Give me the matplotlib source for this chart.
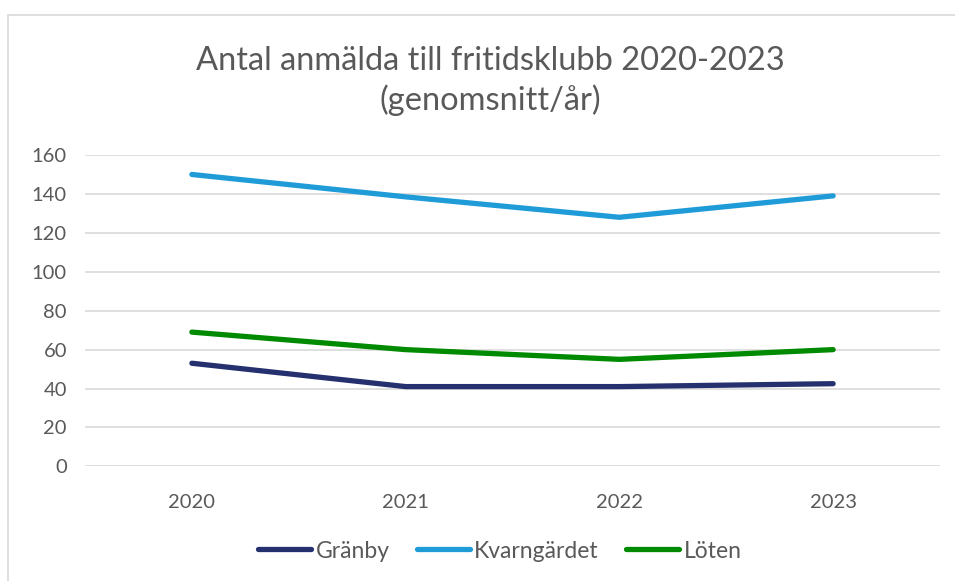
import matplotlib.pyplot as plt
from matplotlib.patches import Rectangle

years = ["2020", "2021", "2022", "2023"]
granby = [53, 41, 41, 42.5]
kvarngardet = [150, 138.5, 128, 139]
loten = [69, 60, 55, 60]

plt.rcParams['font.family'] = ['Lato', 'DejaVu Sans']
grey = '#595959'

fig = plt.figure(figsize=(9.55, 5.81), dpi=100)
# chart border
fig.patches.append(Rectangle((8 / 955, -0.1), 1.1, 1 - 14.5 / 581 + 0.1,
                             transform=fig.transFigure, fill=False,
                             edgecolor='#d9d9d9', linewidth=1.2))

ax = fig.add_axes([85 / 955, 1 - 466.4 / 581, 855 / 955, (466.4 - 155) / 581])
x = range(len(years))
ax.plot(x, granby, color='#25306e', linewidth=3.8, solid_capstyle='round', label='Gränby')
ax.plot(x, kvarngardet, color='#1f9cd8', linewidth=3.8, solid_capstyle='round', label='Kvarngärdet')
ax.plot(x, loten, color='#008a00', linewidth=3.8, solid_capstyle='round', label='Löten')

ax.set_xlim(-0.5, 3.5)
ax.set_ylim(0, 160)
ax.set_yticks(range(0, 161, 20))
ax.set_xticks(list(x))
ax.set_xticklabels(years)
ax.yaxis.grid(True, color='#d9d9d9', linewidth=1.2)
ax.set_axisbelow(True)
for s in ax.spines.values():
    s.set_visible(False)
ax.tick_params(length=0, labelsize=14.5, labelcolor=grey)
ax.tick_params(axis='y', pad=13)
ax.tick_params(axis='x', pad=20)

fig.text(490 / 955, 1 - 81 / 581, "Antal anmälda till fritidsklubb 2020-2023\n(genomsnitt/år)",
         ha='center', va='center', fontsize=23.5, color=grey, linespacing=1.35)

ax.legend(loc='center', bbox_to_anchor=(500 / 955, 1 - 551 / 581), bbox_transform=fig.transFigure,
          ncol=3, frameon=False, fontsize=16.5, labelcolor=grey, handlelength=2.3,
          handletextpad=0.2, columnspacing=1.2)

fig.savefig("out.png", dpi=100)
